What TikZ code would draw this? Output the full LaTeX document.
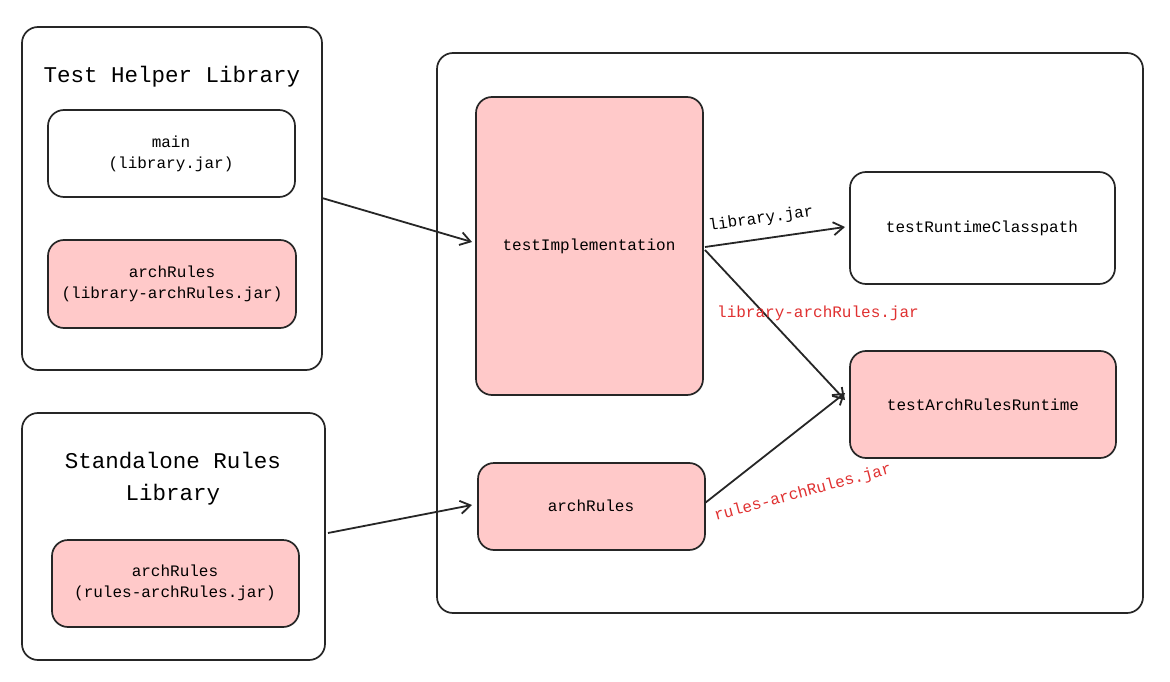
\documentclass[tikz,border=0pt]{standalone}
\usepackage{fontspec}
\setmainfont{Liberation Mono}
\usetikzlibrary{arrows.meta}
\definecolor{pink}{HTML}{FFC9C9}
\definecolor{lred}{HTML}{E03131}
\begin{document}
\begin{tikzpicture}[x=1pt,y=-1pt,
  box/.style={draw=black!85,line width=1.7pt,rounded corners=16pt},
  pbox/.style={box,fill=pink},
  lbl/.style={font=\fontsize{16}{21}\selectfont,align=center},
  arr/.style={-{Straight Barb[length=10pt,width=13pt]},line width=1.8pt,draw=black!85},
  elbl/.style={font=\fontsize{16}{18}\selectfont}]
\path[use as bounding box,fill=white] (0,0) rectangle (1170,682);
\draw[box] (22,27) rectangle (322,370);
\node[font=\fontsize{22.5}{26}\selectfont] (t1) at (172,77) {Test Helper Library};
\draw[box] (48,110) rectangle (295,197);
\node[lbl] (m) at (171,154) {main\\(library.jar)};
\draw[pbox] (48,240) rectangle (296,328);
\node[lbl] (a1) at (172,284) {archRules\\(library-archRules.jar)};
\draw[box] (22,413) rectangle (325,660);
\node[font=\fontsize{22.5}{32}\selectfont,align=center] (t2) at (173,479) {Standalone Rules\\Library};
\draw[pbox] (52,540) rectangle (299,627);
\node[lbl] (a2) at (175,583) {archRules\\(rules-archRules.jar)};
\draw[box] (437,53) rectangle (1143,613);
\draw[pbox] (476,97) rectangle (703,395);
\node[lbl] (ti) at (589,246) {testImplementation};
\draw[pbox] (478,463) rectangle (705,550);
\node[lbl] (ar) at (591,506) {archRules};
\draw[box] (850,172) rectangle (1115,284);
\node[lbl] (rc) at (982,228) {testRuntimeClasspath};
\draw[pbox] (850,351) rectangle (1116,458);
\node[lbl] (rr) at (983,405) {testArchRulesRuntime};
\coordinate (s1) at (322,198); \coordinate (e1) at (472,242);
\coordinate (s2) at (328,533); \coordinate (e2) at (472,505);
\coordinate (s3) at (705,247); \coordinate (e3) at (845,227);
\coordinate (s4) at (705,250); \coordinate (e4) at (845,400);
\coordinate (s5) at (705,503); \coordinate (e5) at (845,393);
\draw[arr] (s1) -- (e1);
\draw[arr] (s2) -- (e2);
\draw[arr] (s3) -- (e3);
\draw[arr] (s4) -- (e4);
\draw[arr] (s5) -- (e5);
\node[elbl,rotate=8] at (761,219) {library.jar};
\node[elbl,text=lred] at (818,313) {library-archRules.jar};
\node[elbl,text=lred,rotate=15] at (803,493) {rules-archRules.jar};
\end{tikzpicture}
\end{document}
